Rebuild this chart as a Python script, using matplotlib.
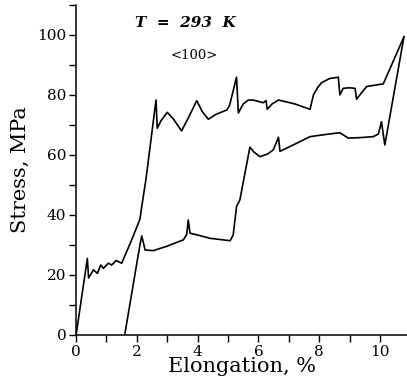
import matplotlib
matplotlib.use("Agg")
import matplotlib.pyplot as plt
from matplotlib.ticker import MultipleLocator

# Upper curve (first loading)
c1_x = [0.0, 0.37, 0.41, 0.57, 0.70, 0.81, 0.90, 1.06, 1.17, 1.32, 1.50, 1.80, 2.10, 2.16, 2.30,
        2.63, 2.67, 2.80, 3.0, 3.2, 3.47, 3.7, 3.97, 4.15, 4.35, 4.6, 4.96, 5.05, 5.28, 5.34,
        5.50, 5.67, 5.83, 6.16, 6.25, 6.29, 6.45, 6.66, 7.2, 7.70, 7.81, 7.95, 8.08, 8.35,
        8.63, 8.68, 8.79, 9.0, 9.18, 9.23, 9.40, 9.56, 9.8, 10.11, 10.79]
c1_y = [0.0, 25.5, 19.0, 21.7, 20.5, 23.3, 22.2, 23.9, 23.3, 24.8, 23.9, 31.0, 38.5, 42.8, 52.0,
        78.3, 68.9, 71.5, 74.2, 72.0, 68.0, 72.5, 78.1, 74.5, 71.9, 73.5, 75.0, 76.5, 85.9, 74.0,
        77.0, 78.3, 78.3, 77.4, 78.1, 75.2, 77.0, 78.3, 77.0, 75.2, 80.0, 82.5, 84.1, 85.5,
        85.9, 80.0, 82.2, 82.4, 82.2, 78.6, 80.8, 82.8, 83.2, 83.7, 99.4]

# Lower curve (reloading)
c2_x = [1.61, 2.10, 2.16, 2.22, 2.27, 2.54, 3.0, 3.53, 3.64, 3.69, 3.75, 4.0, 4.41, 5.07, 5.17,
        5.28, 5.39, 5.72, 5.85, 6.05, 6.30, 6.49, 6.66, 6.71, 7.2, 7.70, 8.2, 8.68, 8.96, 9.4,
        9.78, 9.95, 10.05, 10.16, 10.79]
c2_y = [0.6, 30.0, 33.0, 30.5, 28.3, 28.1, 29.6, 31.7, 33.5, 38.3, 33.9, 33.3, 32.2, 31.4, 33.3,
        42.8, 45.0, 62.6, 61.0, 59.4, 60.3, 61.7, 65.9, 61.2, 63.6, 66.1, 66.8, 67.4, 65.6, 65.8,
        66.1, 67.0, 71.1, 63.3, 99.4]

x_major = [0, 2, 4, 6, 8, 10]
y_major = [0, 20, 40, 60, 80, 100]

plt.rcParams['font.family'] = ['DejaVu Serif']

fig = plt.figure(figsize=(4.07, 3.81), dpi=100)
ax = fig.add_axes([0.187, 0.121, 0.813, 0.866])

ax.plot(c1_x, c1_y, color='black', lw=1.2)
ax.plot(c2_x, c2_y, color='black', lw=1.2)

ax.set_xlim(0, 10.89)
ax.set_ylim(0, 110)
ax.set_xticks(x_major)
ax.set_yticks(y_major)
ax.xaxis.set_minor_locator(MultipleLocator(1))
ax.yaxis.set_minor_locator(MultipleLocator(10))
ax.tick_params(which='both', direction='out', length=5, width=1, labelsize=11, pad=2)
for s in ['top', 'right']:
    ax.spines[s].set_visible(False)
for s in ['left', 'bottom']:
    ax.spines[s].set_linewidth(1.1)

ax.set_xlabel('Elongation, %', fontsize=15, labelpad=-1)
ax.set_ylabel('Stress, MPa', fontsize=15, labelpad=5)

ax.text(3.6, 104, 'T  =  293  K', fontsize=11, style='italic', fontweight='bold',
        ha='center', va='center')
ax.text(3.9, 93.0, '<100>', fontsize=9.5, ha='center', va='center')

fig.savefig('out.png', dpi=100)
